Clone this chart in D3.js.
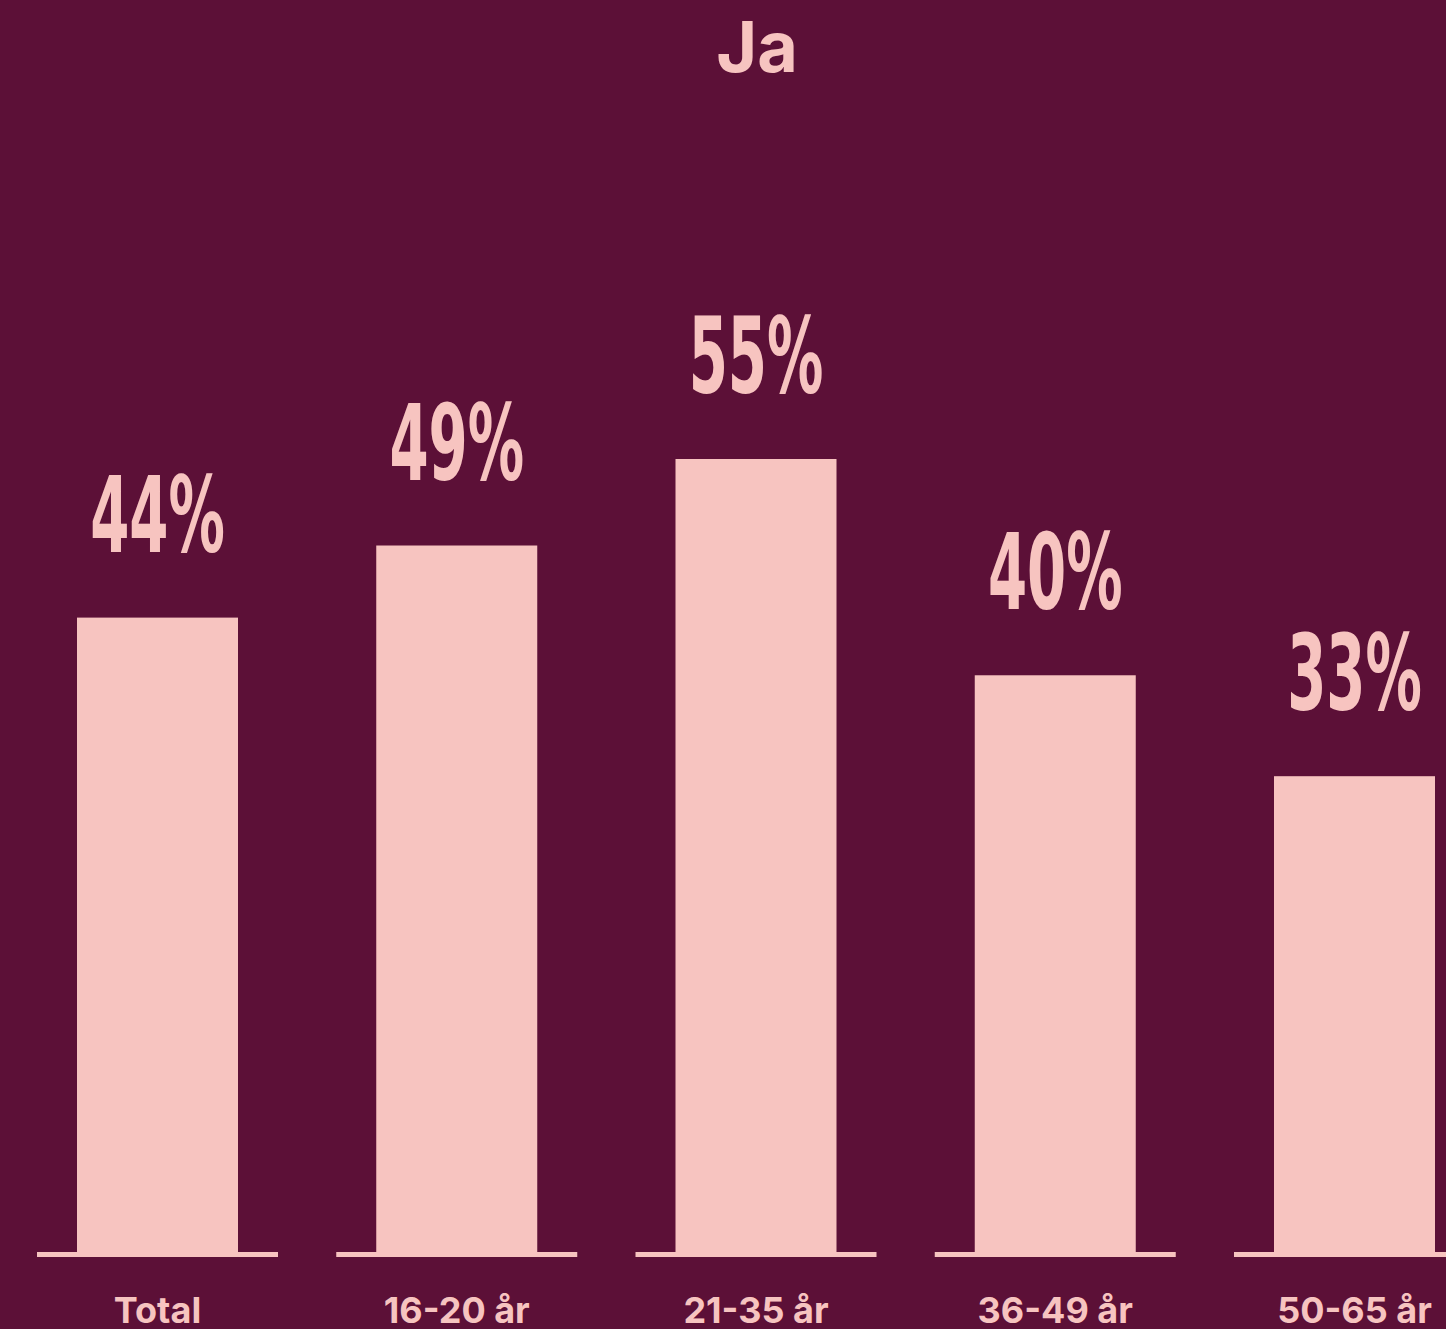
<!DOCTYPE html>
<html lang="sv">
<head>
<meta charset="UTF-8">
<title>Ja</title>
<style>
  html, body { margin: 0; padding: 0; background: #5C1037; }
  svg { display: block; }
  .title { font-family: Inter, Lato, sans-serif; font-weight: 700; font-size: 70px; fill: #F7C4C0; }
  .value { font-family: "Liberation Sans Narrow", "DejaVu Sans Condensed", sans-serif; font-weight: 700; font-size: 106px; fill: #F7C4C0; }
  .cat { font-family: Inter, Lato, sans-serif; font-weight: 700; font-size: 36px; fill: #F7C4C0; }
  .bar { fill: #F7C4C0; }
  .base { fill: #F7C4C0; }
</style>
</head>
<body>
<div id="chart"></div>
<script src="https://cdnjs.cloudflare.com/ajax/libs/d3/7.8.5/d3.min.js"></script>
<script>
  var title = 'Ja';
  var categories = ['Total', '16-20 år', '21-35 år', '36-49 år', '50-65 år'];
  var values = [44, 49, 55, 40, 33];

  var width = 1446,
    height = 1329,
    baseY = 1252;

  var svg = d3.select('#chart').append('svg')
    .attr('width', width)
    .attr('height', height);

  svg.append('rect')
    .attr('width', width)
    .attr('height', height)
    .attr('fill', '#5C1037');

  var x = d3.scaleBand()
    .domain(categories)
    .range([77, 1435])
    .paddingInner(0.462)
    .paddingOuter(0);

  var y = d3.scaleLinear()
    .domain([0, 55])
    .range([baseY, 459]);

  var data = categories.map(function(c, i) { return {cat: c, value: values[i]}; });

  svg.append('text')
    .attr('class', 'title')
    .attr('x', 757)
    .attr('y', 72)
    .attr('text-anchor', 'middle')
    .text(title);

  // short baseline under each bar
  svg.selectAll('.base')
    .data(data)
    .enter().append('rect')
    .attr('class', 'base')
    .attr('x', function(d) { return x(d.cat) - 40; })
    .attr('y', baseY)
    .attr('width', x.bandwidth() + 80)
    .attr('height', 5);

  svg.selectAll('.bar')
    .data(data)
    .enter().append('rect')
    .attr('class', 'bar')
    .attr('x', function(d) { return x(d.cat); })
    .attr('y', function(d) { return y(d.value); })
    .attr('width', x.bandwidth())
    .attr('height', function(d) { return baseY - y(d.value); });

  svg.selectAll('.value-g')
    .data(data)
    .enter().append('g')
    .attr('class', 'value-g')
    .attr('transform', function(d) {
      return 'translate(' + (x(d.cat) + x.bandwidth() / 2) + ',' + (y(d.value) - 66) + ') scale(0.59,1)';
    })
    .append('text')
    .attr('class', 'value')
    .attr('text-anchor', 'middle')
    .text(function(d) { return d.value + '%'; });

  svg.selectAll('.cat')
    .data(data)
    .enter().append('text')
    .attr('class', 'cat')
    .attr('x', function(d) { return x(d.cat) + x.bandwidth() / 2; })
    .attr('y', 1323)
    .attr('text-anchor', 'middle')
    .text(function(d) { return d.cat; });
</script>
</body>
</html>
